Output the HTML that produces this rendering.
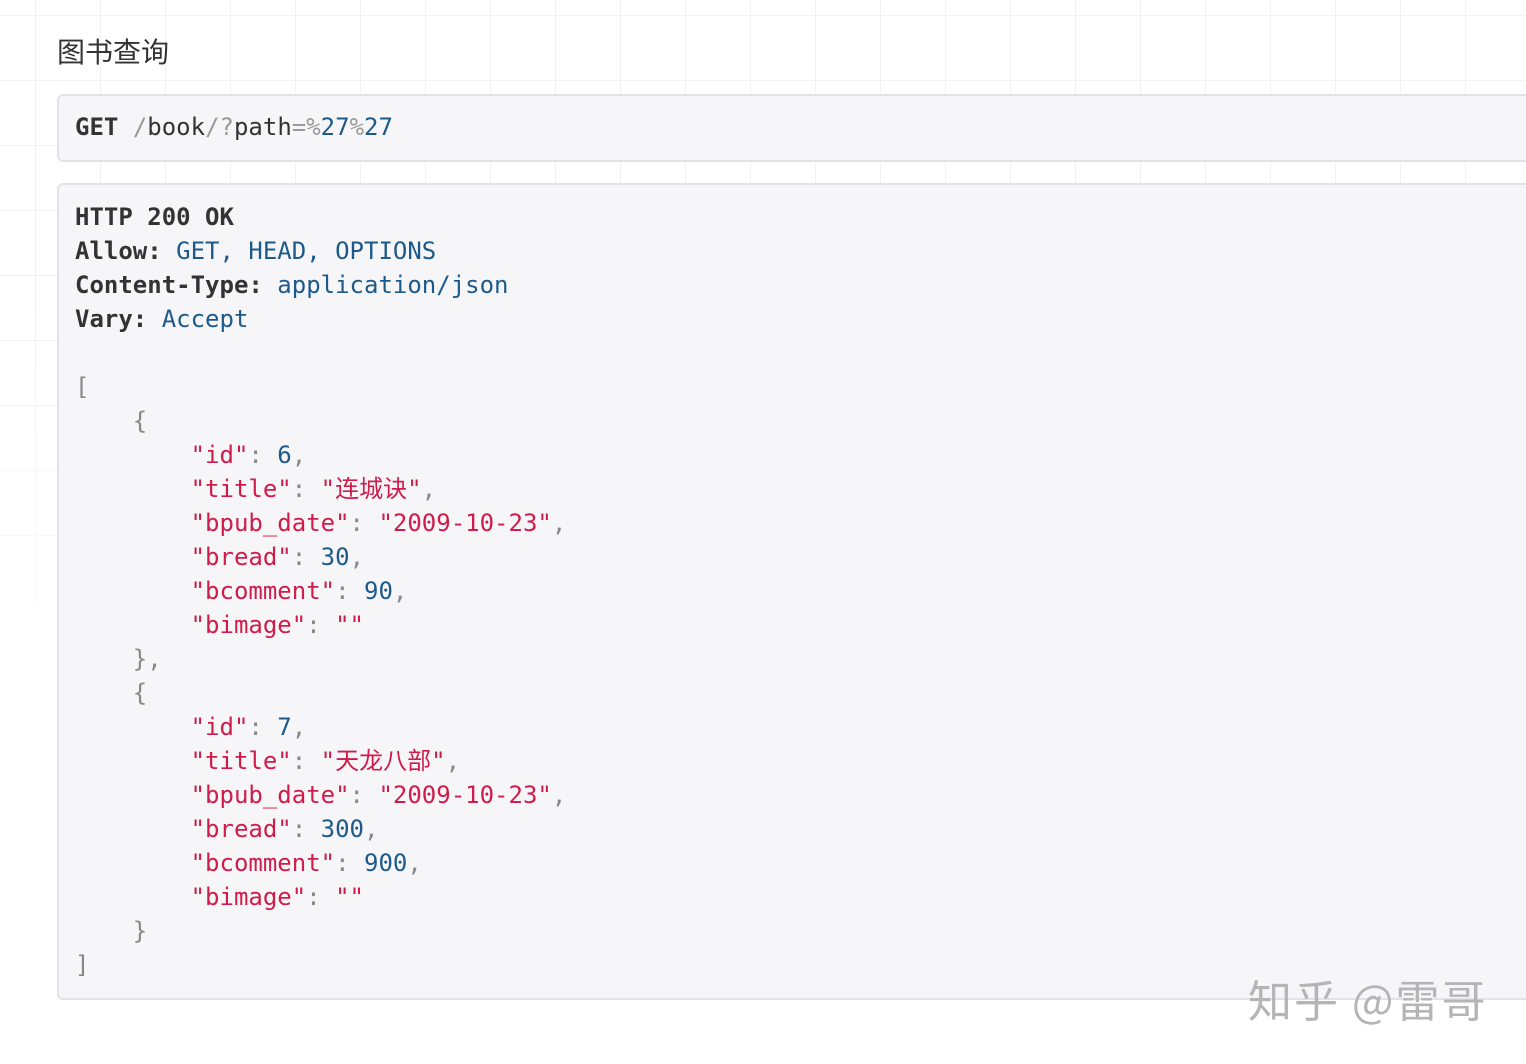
<!DOCTYPE html>
<html><head><meta charset="utf-8"><style>
html,body{margin:0;padding:0;}
body{width:1526px;height:1064px;overflow:hidden;position:relative;background:#fff;
background-image:linear-gradient(#f1f1f4 1px,transparent 1px),linear-gradient(90deg,#f1f1f4 1px,transparent 1px);
background-size:65px 65px;background-position:35px 15px;}
.fade{position:absolute;left:0;top:0;width:1526px;height:1064px;background:linear-gradient(#ffffff00 0,#ffffff00 300px,#fff 700px);}
h4{position:absolute;left:57px;top:33px;margin:0;font:28px "Liberation Sans","Noto Sans CJK SC",sans-serif;color:#333;line-height:40px;}
.box{position:absolute;left:57px;width:1500px;background:#f6f6f9;border:2px solid #e2e2e8;border-radius:6px;box-sizing:border-box;}
pre{margin:0;position:absolute;left:16px;font:24px/34px "DejaVu Sans Mono","Liberation Mono","Noto Sans CJK SC",monospace;color:#333;white-space:pre;}
b{font-weight:bold;color:#333}
.v{color:#1d5a8a}.g{color:#999}.k{color:#d01c4b}.n{color:#1d5a8a}.p{color:#888}
.wm{position:absolute;left:1248px;top:966px;font:44px "Noto Sans CJK SC",sans-serif;color:#b5b5b5;letter-spacing:2px;}
</style></head><body>
<div class="fade"></div>
<h4>图书查询</h4>
<div class="box" style="top:94px;height:68px;"><pre style="top:14px"><b>GET</b> <span class="g">/</span>book<span class="g">/?</span>path<span class="g">=%</span><span class="v">27</span><span class="g">%</span><span class="v">27</span></pre></div>
<div class="box" style="top:183px;height:817px;"><pre style="top:15px"><b>HTTP 200 OK</b>
<b>Allow:</b> <span class="v">GET, HEAD, OPTIONS</span>
<b>Content-Type:</b> <span class="v">application/json</span>
<b>Vary:</b> <span class="v">Accept</span>

<span class="p">[</span>
<span class="p">    {</span>
        <span class="k">"id"</span><span class="p">:</span> <span class="n">6</span><span class="p">,</span>
        <span class="k">"title"</span><span class="p">:</span> <span class="k">"连城诀"</span><span class="p">,</span>
        <span class="k">"bpub_date"</span><span class="p">:</span> <span class="k">"2009-10-23"</span><span class="p">,</span>
        <span class="k">"bread"</span><span class="p">:</span> <span class="n">30</span><span class="p">,</span>
        <span class="k">"bcomment"</span><span class="p">:</span> <span class="n">90</span><span class="p">,</span>
        <span class="k">"bimage"</span><span class="p">:</span> <span class="k">""</span>
<span class="p">    },</span>
<span class="p">    {</span>
        <span class="k">"id"</span><span class="p">:</span> <span class="n">7</span><span class="p">,</span>
        <span class="k">"title"</span><span class="p">:</span> <span class="k">"天龙八部"</span><span class="p">,</span>
        <span class="k">"bpub_date"</span><span class="p">:</span> <span class="k">"2009-10-23"</span><span class="p">,</span>
        <span class="k">"bread"</span><span class="p">:</span> <span class="n">300</span><span class="p">,</span>
        <span class="k">"bcomment"</span><span class="p">:</span> <span class="n">900</span><span class="p">,</span>
        <span class="k">"bimage"</span><span class="p">:</span> <span class="k">""</span>
<span class="p">    }</span>
<span class="p">]</span></pre></div>
<div class="wm">知乎 @雷哥</div>
</body></html>
